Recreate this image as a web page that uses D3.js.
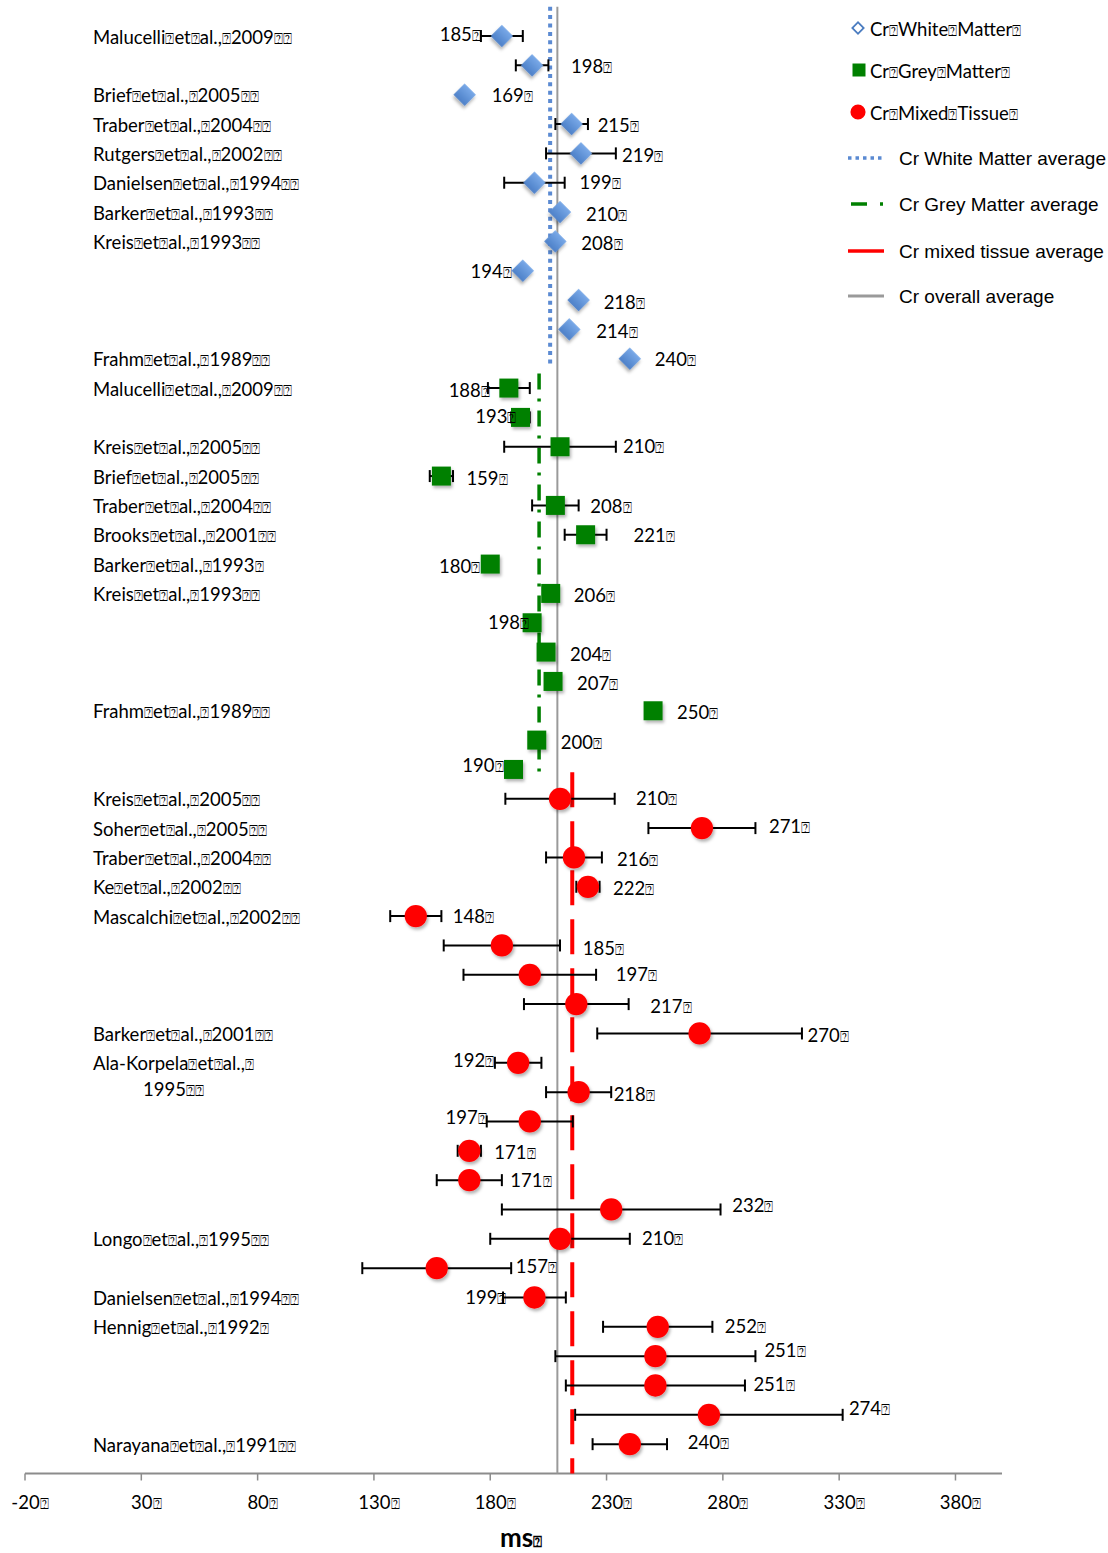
<!DOCTYPE html>
<html>
<head>
<meta charset="utf-8">
<script src="https://cdn.jsdelivr.net/npm/d3@7"></script>
<style>
  body { margin: 0; background: #fff; }
  svg { display: block; }
  .lbl { font-family: Lato, "Noto Sans", sans-serif; font-size: 18.5px; fill: #000; }
  .leg2 { font-family: "Liberation Sans", Arial, sans-serif; font-size: 19px; fill: #000; }
  .tofu { font-family: "DejaVu Sans", sans-serif; font-size: 15px; }
</style>
</head>
<body>
<svg id="chart" width="1108" height="1553"></svg>
<script>
// ---- data -------------------------------------------------------------
const xTicks = [-20, 30, 80, 130, 180, 230, 280, 330, 380];
const axisTitle = "ms⍰";

// Cr white matter T2 (ms), one row per study measurement
const whiteStudies = ["Malucelli⍰et⍰al.,⍰2009⍰⍰", "", "Brief⍰et⍰al.,⍰2005⍰⍰", "Traber⍰et⍰al.,⍰2004⍰⍰",
  "Rutgers⍰et⍰al.,⍰2002⍰⍰", "Danielsen⍰et⍰al.,⍰1994⍰⍰", "Barker⍰et⍰al.,⍰1993⍰⍰", "Kreis⍰et⍰al.,⍰1993⍰⍰",
  "", "", "", "Frahm⍰et⍰al.,⍰1989⍰⍰"];
const whiteMs  = [185, 198, 169, 215, 219, 199, 210, 208, 194, 218, 214, 240];
const whiteErr = [9, 7, 0, 7, 15, 13, 0, 0, 0, 0, 0, 0];

// Cr grey matter
const greyStudies = ["Malucelli⍰et⍰al.,⍰2009⍰⍰", "", "Kreis⍰et⍰al.,⍰2005⍰⍰", "Brief⍰et⍰al.,⍰2005⍰⍰",
  "Traber⍰et⍰al.,⍰2004⍰⍰", "Brooks⍰et⍰al.,⍰2001⍰⍰", "Barker⍰et⍰al.,⍰1993⍰", "Kreis⍰et⍰al.,⍰1993⍰⍰",
  "", "", "", "Frahm⍰et⍰al.,⍰1989⍰⍰", "", ""];
const greyMs  = [188, 193, 210, 159, 208, 221, 180, 206, 198, 204, 207, 250, 200, 190];
const greyErr = [9, 4, 24, 5, 10, 9, 0, 0, 0, 0, 0, 0, 0, 0];

// Cr mixed tissue
const mixedStudies = ["Kreis⍰et⍰al.,⍰2005⍰⍰", "Soher⍰et⍰al.,⍰2005⍰⍰", "Traber⍰et⍰al.,⍰2004⍰⍰",
  "Ke⍰et⍰al.,⍰2002⍰⍰", "Mascalchi⍰et⍰al.,⍰2002⍰⍰", "", "", "", "Barker⍰et⍰al.,⍰2001⍰⍰",
  "Ala-Korpela⍰et⍰al.,⍰\n1995⍰⍰", "", "", "", "", "", "Longo⍰et⍰al.,⍰1995⍰⍰", "",
  "Danielsen⍰et⍰al.,⍰1994⍰⍰", "Hennig⍰et⍰al.,⍰1992⍰", "", "", "", "Narayana⍰et⍰al.,⍰1991⍰⍰"];
const mixedMs  = [210, 271, 216, 222, 148, 185, 197, 217, 270, 192, 218, 197, 171, 171, 232, 210,
  157, 199, 252, 251, 251, 274, 240];
const mixedErr = [23.5, 23, 12, 5, 11, 25, 28.5, 22.5, 44, 10, 14, 18.5, 5, 14, 47, 30,
  32, 13.5, 23.5, 43, 38.5, 57.5, 16];

const legendMarkerNames = ["Cr⍰White⍰Matter⍰", "Cr⍰Grey⍰Matter⍰", "Cr⍰Mixed⍰Tissue⍰"];
const legendLineNames = ["Cr White Matter average", "Cr Grey Matter average",
  "Cr mixed tissue average", "Cr overall average"];

// row extent (in row units) of each average line
const whiteAvgRows = [0, 12.3];
const greyAvgRows = [12.5, 26.3];
const mixedAvgRows = [26.1, 50];
const overallAvgRows = [0, 50];

// ---- layout -------------------------------------------------------------
// value-label nudges in px relative to the marker: [dx, dy]; negative dx = label on the left
const whiteNudge = [[-21,-2],[39,1],[27,1],[26,1],[41,2],[45,0],[26,2],[26,2],[-11,1],[25,2],[27,2],[25,1]];
const greyNudge = [[-19,2],[-4,-1],[63,0],[25,2],[35,1],[48,1],[-10,2],[23,2],[-3,0],[24,2],[24,2],[24,2],[24,2],[-10,-4]];
const mixedNudge = [[76,0],[67,-2],[43,2],[25,2],[37,0],[81,3],[86,0],[74,2],[108,2],[-24,-2],[35,2],[-43,-4],
  [25,2],[41,0],[121,-4],[82,0],[79,-2],[-28,0],[67,0],[109,-6],[98,-1],[140,-6],[58,-2]];

const svg = d3.select("#chart");

const x = d3.scaleLinear().domain([-20, 400]).range([25, 1002]);
const y = d3.scaleLinear().domain([0, 50]).range([6.7, 1473.5]);

// defs: soft drop shadow for markers, gradient for diamonds
const defs = svg.append("defs");
const f = defs.append("filter").attr("id", "shadow")
  .attr("x", "-40%").attr("y", "-40%").attr("width", "190%").attr("height", "190%");
f.append("feDropShadow").attr("dx", 1.5).attr("dy", 2.5).attr("stdDeviation", 1.6)
  .attr("flood-color", "#000").attr("flood-opacity", 0.3);
const g1 = defs.append("linearGradient").attr("id", "blueGrad")
  .attr("x1", 0).attr("y1", 0).attr("x2", 0).attr("y2", 1);
g1.append("stop").attr("offset", "0%").attr("stop-color", "#79a9e8");
g1.append("stop").attr("offset", "100%").attr("stop-color", "#4d80c8");

// text whose unknown-glyph boxes are drawn in a fallback font
function boxText(sel, str) {
  str.split(/(⍰)/).forEach(part => {
    if (!part) return;
    if (part === "⍰") sel.append("tspan").attr("class", "tofu").text("⍰");
    else sel.append("tspan").text(part);
  });
}

// ---- axis -------------------------------------------------------------
const axisY = y(50);
const axisG = svg.append("g").attr("transform", `translate(0,${axisY})`);
axisG.append("line").attr("x1", x(-20)).attr("x2", x(400))
  .attr("stroke", "#8c8c8c").attr("stroke-width", 2);
axisG.selectAll("line.tick").data(xTicks).join("line").attr("class", "tick")
  .attr("x1", d => x(d)).attr("x2", d => x(d)).attr("y1", 0).attr("y2", 7)
  .attr("stroke", "#8c8c8c").attr("stroke-width", 1.5);
axisG.selectAll("text.tl").data(xTicks).join("text").attr("class", "tl lbl")
  .attr("x", d => x(d) + 5).attr("y", 29).attr("dy", "0.35em").attr("text-anchor", "middle")
  .each(function (d) { boxText(d3.select(this), d + "⍰"); });
svg.append("text").attr("class", "lbl")
  .attr("x", 521).attr("y", 1538).attr("dy", "0.35em").attr("text-anchor", "middle")
  .style("font-size", "26px").style("font-weight", "bold")
  .call(s => boxText(s, axisTitle));

// ---- series -------------------------------------------------------------
const series = [
  { studies: whiteStudies, ms: whiteMs, err: whiteErr, nudge: whiteNudge, first: 1, shape: "diamond", fill: "url(#blueGrad)" },
  { studies: greyStudies, ms: greyMs, err: greyErr, nudge: greyNudge, first: 13, shape: "square", fill: "#008000" },
  { studies: mixedStudies, ms: mixedMs, err: mixedErr, nudge: mixedNudge, first: 27, shape: "circle", fill: "#ff0000" }
];
const rows = [];
series.forEach(s => s.ms.forEach((v, i) => rows.push({
  row: s.first + i, v, e: s.err[i], study: s.studies[i], nudge: s.nudge[i], shape: s.shape, fill: s.fill
})));

// study names (left column)
const names = svg.append("g");
rows.filter(r => r.study).forEach(r => {
  const parts = r.study.split("\n");
  const first = names.append("text").attr("class", "lbl")
    .attr("x", 93).attr("y", y(r.row) + 1).attr("dy", "0.35em");
  boxText(first, parts[0]);
  if (parts.length > 1) {
    // wrapped label: following lines centred under the first one
    const bb = first.node().getBBox();
    parts.slice(1).forEach((p, k) => {
      const line = names.append("text").attr("class", "lbl").attr("text-anchor", "middle")
        .attr("x", bb.x + bb.width / 2).attr("y", y(r.row) + 1 + (k + 1) * 26).attr("dy", "0.35em");
      boxText(line, p);
    });
  }
});

// average lines
const avgG = svg.append("g");
const avgs = [
  { v: d3.mean(whiteMs), rows: whiteAvgRows, color: "#5b8ad2", w: 4, dash: "4 4.4" },
  { v: d3.mean(greyMs), rows: greyAvgRows, color: "#008000", w: 3.5, dash: "16 9 3 9" },
  { v: d3.mean(mixedMs), rows: mixedAvgRows, color: "#ff0000", w: 4, dash: "35 14" },
  { v: d3.mean([...whiteMs, ...greyMs, ...mixedMs]), rows: overallAvgRows, color: "#9a9a9a", w: 2, dash: null }
];
// overall first (drawn underneath), then group averages
[avgs[3], avgs[0], avgs[1], avgs[2]].forEach(a => {
  avgG.append("line").attr("x1", x(a.v)).attr("x2", x(a.v))
    .attr("y1", y(a.rows[0])).attr("y2", y(a.rows[1]))
    .attr("stroke", a.color).attr("stroke-width", a.w)
    .attr("stroke-dasharray", a.dash);
});

// error bars
const errG = svg.append("g").attr("stroke", "#000").attr("stroke-width", 2);
rows.filter(r => r.e > 0).forEach(r => {
  const yy = y(r.row);
  errG.append("line").attr("x1", x(r.v - r.e)).attr("x2", x(r.v + r.e)).attr("y1", yy).attr("y2", yy);
  [r.v - r.e, r.v + r.e].forEach(b => errG.append("line")
    .attr("x1", x(b)).attr("x2", x(b)).attr("y1", yy - 6).attr("y2", yy + 6));
});

// markers
const symbolOf = {
  diamond: d3.symbol(d3.symbolSquare, 250),
  square: d3.symbol(d3.symbolSquare, 361),
  circle: d3.symbol(d3.symbolCircle, 390)
};
svg.append("g").selectAll("path").data(rows).join("path")
  .attr("d", d => symbolOf[d.shape]())
  .attr("transform", d => `translate(${x(d.v)},${y(d.row)})` + (d.shape === "diamond" ? " rotate(45)" : ""))
  .attr("fill", d => d.fill)
  .attr("filter", "url(#shadow)");

// value labels
svg.append("g").selectAll("text").data(rows).join("text")
  .attr("class", "lbl")
  .attr("x", d => x(d.v) + d.nudge[0])
  .attr("y", d => y(d.row) + d.nudge[1])
  .attr("dy", "0.35em")
  .attr("text-anchor", d => d.nudge[0] < 0 ? "end" : "start")
  .each(function (d) { boxText(d3.select(this), d.v + "⍰"); });

// ---- legend -------------------------------------------------------------
const leg = svg.append("g");
const markerLegend = [
  { name: legendMarkerNames[0], shape: "diamond", y: 29 },
  { name: legendMarkerNames[1], shape: "square", y: 71 },
  { name: legendMarkerNames[2], shape: "circle", y: 113 }
];
markerLegend.forEach(m => {
  if (m.shape === "diamond") {
    leg.append("path").attr("d", d3.symbol(d3.symbolSquare, 64)())
      .attr("transform", `translate(858,${m.y - 1}) rotate(45)`)
      .attr("fill", "#fff").attr("stroke", "#4a7cc0").attr("stroke-width", 1.8);
  } else if (m.shape === "square") {
    leg.append("path").attr("d", d3.symbol(d3.symbolSquare, 169)())
      .attr("transform", `translate(859,${m.y - 1})`).attr("fill", "#008000");
  } else {
    leg.append("path").attr("d", d3.symbol(d3.symbolCircle, 180)())
      .attr("transform", `translate(858,${m.y - 1})`).attr("fill", "#ff0000");
  }
  const t = leg.append("text").attr("class", "lbl").attr("x", 870).attr("y", m.y + 1).attr("dy", "0.35em");
  boxText(t, m.name);
});
const lineLegend = [
  { name: legendLineNames[0], a: avgs[0], y: 158 },
  { name: legendLineNames[1], a: avgs[1], y: 204 },
  { name: legendLineNames[2], a: avgs[2], y: 251 },
  { name: legendLineNames[3], a: avgs[3], y: 296 }
];
lineLegend.forEach((l, i) => {
  leg.append("line").attr("x1", i === 1 ? 851 : 848).attr("x2", 884).attr("y1", l.y).attr("y2", l.y)
    .attr("stroke", l.a.color).attr("stroke-width", i === 3 ? 3 : 3.5)
    .attr("stroke-dasharray", i === 0 ? "3.5 4" : (i === 1 ? "16 13 3 9" : null));
  leg.append("text").attr("class", "leg2").attr("x", 899).attr("y", l.y).attr("dy", "0.35em").text(l.name);
});
</script>
</body>
</html>
